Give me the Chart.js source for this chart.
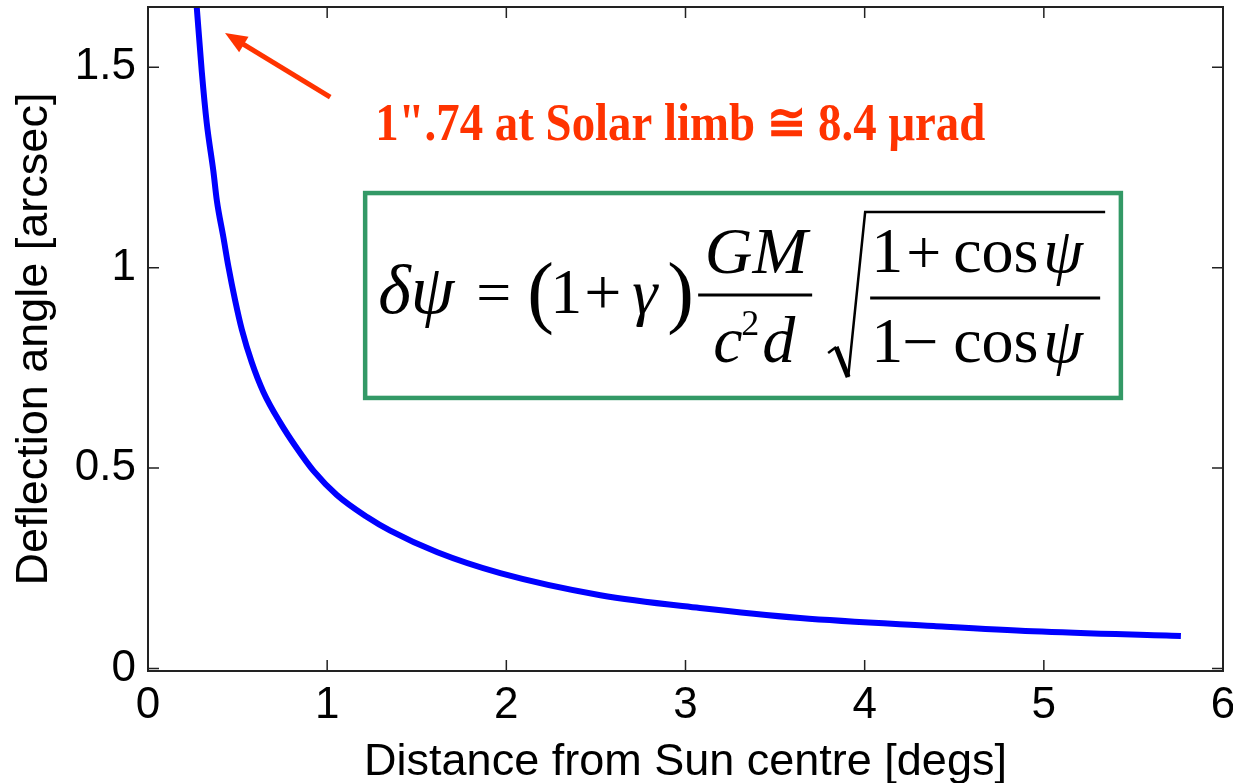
<!DOCTYPE html>
<html>
<head>
<meta charset="utf-8">
<script src="https://cdn.jsdelivr.net/npm/chart.js@4"></script>
<style>
  html, body { margin: 0; padding: 0; background: #fff; }
  #wrap { width: 1233px; height: 783px; }
</style>
</head>
<body>
<div id="wrap"><canvas id="deflChart" width="1233" height="783"></canvas></div>
<script>
// distance from sun centre [degs] and deflection [arcsec]
const distDegs = [0.272, 0.30, 0.328, 0.365, 0.384, 0.421, 0.449, 0.486, 0.524, 0.579, 0.644, 0.737, 0.83, 0.924, 1.054, 1.223, 1.352, 1.615, 1.966, 2.525, 3.08, 3.64, 4.385, 4.94, 5.765];
const deflArcsec = [1.65, 1.49, 1.36, 1.24, 1.168, 1.075, 1.002, 0.919, 0.845, 0.764, 0.69, 0.614, 0.55, 0.493, 0.433, 0.378, 0.344, 0.29, 0.238, 0.183, 0.151, 0.126, 0.106, 0.093, 0.081];
const xTicks = [0, 1, 2, 3, 4, 5, 6];
const yTicks = [0, 0.5, 1, 1.5];

const axisFont = "'Liberation Sans', Arial, sans-serif";
const serif = "'Liberation Serif', 'Times New Roman', serif";

const points = distDegs.map((d, i) => ({ x: d, y: deflArcsec[i] }));

// box, inward ticks on all four sides (matlab style)
const frame = {
    id: "frame",
    afterDatasetsDraw(chart) {
        const { ctx, chartArea: a, scales } = chart;
        ctx.save();
        ctx.strokeStyle = "#222";
        ctx.lineWidth = 2;
        ctx.strokeRect(a.left, a.top, a.right - a.left, a.bottom - a.top);
        ctx.lineWidth = 1.5;
        const tl = 11;
        scales.x.ticks.forEach(t => {
            const px = scales.x.getPixelForValue(t.value);
            ctx.beginPath();
            ctx.moveTo(px, a.bottom); ctx.lineTo(px, a.bottom - tl);
            ctx.moveTo(px, a.top); ctx.lineTo(px, a.top + tl);
            ctx.stroke();
        });
        scales.y.ticks.forEach(t => {
            const py = scales.y.getPixelForValue(t.value);
            ctx.beginPath();
            ctx.moveTo(a.left, py); ctx.lineTo(a.left + tl, py);
            ctx.moveTo(a.right, py); ctx.lineTo(a.right - tl, py);
            ctx.stroke();
        });
        ctx.restore();
    }
};

// red arrow + note, formula in green box
const notes = {
    id: "notes",
    afterDraw(chart) {
        const { ctx, scales } = chart;
        const X = v => scales.x.getPixelForValue(v);
        const Y = v => scales.y.getPixelForValue(v);
        ctx.save();

        // arrow
        const red = "#ff3300";
        const hx = X(0.43), hy = Y(1.585), tx = X(1.017), ty = Y(1.425);
        const ang = Math.atan2(hy - ty, hx - tx);
        ctx.strokeStyle = red; ctx.fillStyle = red; ctx.lineWidth = 5;
        ctx.beginPath();
        ctx.moveTo(tx, ty);
        ctx.lineTo(hx - 14 * Math.cos(ang), hy - 14 * Math.sin(ang));
        ctx.stroke();
        ctx.beginPath();
        ctx.moveTo(hx, hy);
        ctx.lineTo(hx - 22 * Math.cos(ang) + 9 * Math.sin(ang), hy - 22 * Math.sin(ang) - 9 * Math.cos(ang));
        ctx.lineTo(hx - 22 * Math.cos(ang) - 9 * Math.sin(ang), hy - 22 * Math.sin(ang) + 9 * Math.cos(ang));
        ctx.closePath();
        ctx.fill();

        // note text, squeezed to the width it has in the figure
        const note = "1\".74 at Solar limb \u2245 8.4 \u03bcrad";
        ctx.font = "bold 52px " + serif;
        const nw = ctx.measureText(note).width;
        const nx = X(1.268), ny = Y(1.318);
        ctx.save();
        ctx.translate(nx, ny);
        ctx.scale(610 / nw, 1);
        ctx.textBaseline = "alphabetic";
        ctx.fillText(note, 0, 0);
        ctx.restore();

        // formula box
        const bl = X(1.212), br = X(5.43), bt = Y(1.186), bb = Y(0.675);
        ctx.strokeStyle = "#339966"; ctx.lineWidth = 4.5;
        ctx.strokeRect(bl, bt, br - bl, bb - bt);

        ctx.fillStyle = "#000"; ctx.strokeStyle = "#000";
        ctx.textBaseline = "alphabetic";
        const txt = (s, x, y, size, italic, align) => {
            ctx.font = (italic ? "italic " : "") + size + "px " + serif;
            ctx.textAlign = align || "left";
            ctx.fillText(s, bl + x, bt + y);
        };
        // main line, baseline about 120 px below the box top
        txt("\u03b4\u03c8", 13, 120, 70, true);
        txt("=", 111, 120, 62, false);
        txt("(", 162, 125, 80, false);
        txt("1", 185, 120, 64, false);
        txt("+", 219, 121, 66, false);
        txt("\u03b3", 267, 120, 64, true);
        txt(")", 302, 125, 80, false);
        // GM / c^2 d
        txt("GM", 391, 80, 66, true, "center");
        txt("c", 348, 169, 66, true);
        txt("2", 376, 142, 36, false);
        txt("d", 397, 169, 66, true);
        // fraction under the root
        txt("1", 506, 79, 64, false);
        txt("+", 541, 80, 62, false);
        txt("cos", 588, 79, 64, false);
        txt("\u03c8", 678, 79, 64, true);
        txt("1", 506, 169, 64, false);
        txt("\u2212", 537, 170, 64, false);
        txt("cos", 588, 169, 64, false);
        txt("\u03c8", 678, 169, 64, true);

        ctx.lineWidth = 3;
        ctx.beginPath();
        ctx.moveTo(bl + 333, bt + 102); ctx.lineTo(bl + 447, bt + 102);
        ctx.moveTo(bl + 505, bt + 105); ctx.lineTo(bl + 735, bt + 105);
        ctx.stroke();
        // radical sign
        ctx.lineWidth = 2.5;
        ctx.beginPath();
        ctx.moveTo(bl + 463, bt + 160);
        ctx.lineTo(bl + 471, bt + 154);
        ctx.stroke();
        ctx.lineWidth = 5;
        ctx.beginPath();
        ctx.moveTo(bl + 471, bt + 154);
        ctx.lineTo(bl + 483, bt + 184);
        ctx.stroke();
        ctx.lineWidth = 2.5;
        ctx.beginPath();
        ctx.moveTo(bl + 483, bt + 184);
        ctx.lineTo(bl + 500, bt + 19);
        ctx.lineTo(bl + 740, bt + 19);
        ctx.stroke();

        ctx.restore();
    }
};

new Chart(document.getElementById("deflChart"), {
    type: "scatter",
    data: {
        datasets: [{
            data: points,
            showLine: true,
            borderColor: "#0000ff",
            borderWidth: 6,
            pointRadius: 0,
            cubicInterpolationMode: "monotone",
            fill: false,
        }]
    },
    options: {
        responsive: false,
        animation: false,
        layout: { padding: { top: 7, right: 10, left: 0, bottom: 0 } },
        plugins: {
            legend: { display: false },
            tooltip: { enabled: false },
        },
        scales: {
            x: {
                type: "linear",
                min: 0, max: 6,
                afterBuildTicks: s => { s.ticks = xTicks.map(v => ({ value: v })); },
                afterFit: s => {
                    s.height = 112;
                    s.paddingLeft = 0; s.paddingRight = 0;
                },
                grid: { display: false, drawTicks: false },
                border: { display: false },
                ticks: { color: "#000", font: { family: axisFont, size: 44 }, padding: 8, callback: v => String(v) },
                title: {
                    display: true,
                    text: "Distance from Sun centre [degs]",
                    color: "#000",
                    font: { family: axisFont, size: 45, lineHeight: 1.0 },
                    padding: { top: 0, bottom: -2 },
                },
            },
            y: {
                type: "linear",
                min: -0.006, max: 1.65,
                afterBuildTicks: s => { s.ticks = yTicks.map(v => ({ value: v })); },
                afterFit: s => {
                    s.width = 148;
                    s.paddingTop = 0; s.paddingBottom = 0;
                },
                grid: { display: false, drawTicks: false },
                border: { display: false },
                ticks: { color: "#000", font: { family: axisFont, size: 44 }, padding: 12, callback: v => String(v) },
                title: {
                    display: true,
                    text: "Deflection angle [arcsec]",
                    color: "#000",
                    font: { family: axisFont, size: 45, lineHeight: 1.0 },
                    padding: { top: 12, bottom: 0 },
                },
            },
        },
    },
    plugins: [frame, notes],
});
</script>
</body>
</html>
